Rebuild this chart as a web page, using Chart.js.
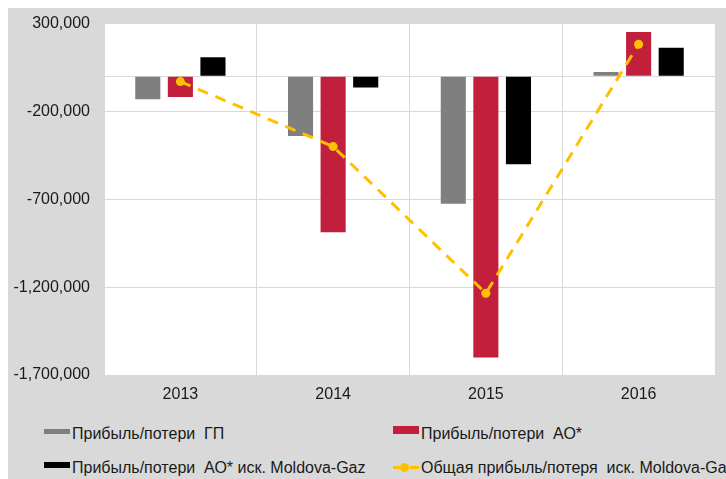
<!DOCTYPE html>
<html>
<head>
<meta charset="utf-8">
<script src="https://cdn.jsdelivr.net/npm/chart.js@4"></script>
<style>
  html, body { margin: 0; padding: 0; background: #ffffff; width: 726px; height: 479px; overflow: hidden; }
  #panel { position: absolute; left: 8px; top: 8px; width: 718px; height: 471px; background: #d9d9d9; }
  #chart { position: absolute; left: 8px; top: 0; }
  .lg { position: absolute; font-family: 'Liberation Sans', Arial, sans-serif; font-size: 16px; color: #1a1a1a; white-space: pre; line-height: 19px; }
  .sw { position: absolute; }
</style>
</head>
<body>
<div id="panel"></div>
<canvas id="chart" width="718" height="408"></canvas>
<div id="legend"></div>
<script>
// ---- data ----
const YEARS = ['2013', '2014', '2015', '2016'];
const SERIES_NAMES = [
  'Прибыль/потери  ГП',
  'Прибыль/потери  АО*',
  'Прибыль/потери  АО* иск. Moldova-Gaz',
  'Общая прибыль/потеря  иск. Moldova-Gaz'
];
const GP_VALUES = [-130000, -340000, -726000, 24000];
const AO_VALUES = [-118000, -887000, -1600000, 252000];
const AO_EX_MG_VALUES = [108000, -63000, -500000, 163000];
const TOTAL_EX_MG_VALUES = [-30000, -400000, -1235000, 182000];
const Y_MIN = -1700000;
const Y_MAX = 300000;
const Y_STEP = 500000;

// ---- styles ----
const COLORS = ['#7f7f7f', '#c11f3b', '#000000', '#ffc000'];
const FONT = "'Liberation Sans', Arial, sans-serif";

const plotBg = {
  id: 'plotBg',
  beforeDraw(chart) {
    const { ctx, chartArea: a } = chart;
    ctx.save();
    ctx.fillStyle = '#ffffff';
    ctx.fillRect(a.left, a.top, a.right - a.left, a.bottom - a.top);
    ctx.restore();
  }
};

const barCommon = { categoryPercentage: 0.64, barPercentage: 0.77, order: 1, borderWidth: 0 };

new Chart(document.getElementById('chart'), {
  type: 'bar',
  data: {
    labels: YEARS,
    datasets: [
      { label: SERIES_NAMES[0], data: GP_VALUES, backgroundColor: COLORS[0], ...barCommon },
      { label: SERIES_NAMES[1], data: AO_VALUES, backgroundColor: COLORS[1], ...barCommon },
      { label: SERIES_NAMES[2], data: AO_EX_MG_VALUES, backgroundColor: COLORS[2], ...barCommon },
      {
        type: 'line', label: SERIES_NAMES[3], data: TOTAL_EX_MG_VALUES, order: 0,
        borderColor: COLORS[3], backgroundColor: COLORS[3], borderWidth: 3,
        borderDash: [11, 8], tension: 0, fill: false,
        pointRadius: 4.5, pointHoverRadius: 4.5, pointBackgroundColor: COLORS[3], pointBorderWidth: 0
      }
    ]
  },
  options: {
    responsive: false,
    animation: false,
    devicePixelRatio: 1,
    layout: { padding: { left: 0, top: 0, right: 11, bottom: 0 } },
    plugins: { legend: { display: false }, tooltip: { enabled: false }, title: { display: false } },
    scales: {
      x: {
        offset: true,
        grid: { display: true, offset: true, color: '#d9d9d9', drawTicks: false },
        border: { display: true, color: '#d9d9d9' },
        ticks: { color: '#1a1a1a', font: { family: FONT, size: 16 }, padding: 10 },
        afterFit(scale) { scale.height = 33; }
      },
      y: {
        min: Y_MIN, max: Y_MAX,
        grid: { color: '#d9d9d9', drawTicks: false },
        border: { display: true, color: '#d9d9d9' },
        ticks: {
          stepSize: Y_STEP, padding: 14, color: '#1a1a1a', font: { family: FONT, size: 16 },
          callback: (v) => v === 0 ? '' : Number(v).toLocaleString('en-US')
        },
        afterBuildTicks(scale) {
          if (!scale.ticks.some(t => t.value === 0)) {
            scale.ticks.push({ value: 0 });
            scale.ticks.sort((a, b) => a.value - b.value);
          }
        },
        afterFit(scale) { scale.width = 96; }
      }
    }
  },
  plugins: [plotBg]
});

// ---- HTML legend ----
const legend = document.getElementById('legend');
const LEGEND_POS = [
  { x: 44, y: 424, sw: { top: 4.5, h: 5 } },
  { x: 393, y: 424, sw: { top: 1.5, h: 8 } },
  { x: 44, y: 458, sw: { top: 4, h: 6 } },
  { x: 393, y: 458, line: true }
];
SERIES_NAMES.forEach((name, i) => {
  const p = LEGEND_POS[i];
  if (p.line) {
    const mk = (l, w) => {
      const d = document.createElement('div');
      d.className = 'sw';
      d.style.cssText = `left:${p.x + l}px;top:${p.y + 7.5}px;width:${w}px;height:3px;background:${COLORS[i]}`;
      legend.appendChild(d);
    };
    mk(0, 9); mk(17, 9);
    const c = document.createElement('div');
    c.className = 'sw';
    c.style.cssText = `left:${p.x + 7}px;top:${p.y + 4.5}px;width:9px;height:9px;border-radius:50%;background:${COLORS[i]}`;
    legend.appendChild(c);
  } else {
    const s = document.createElement('div');
    s.className = 'sw';
    s.style.cssText = `left:${p.x}px;top:${p.y + p.sw.top}px;width:26px;height:${p.sw.h}px;background:${COLORS[i]}`;
    legend.appendChild(s);
  }
  const t = document.createElement('div');
  t.className = 'lg';
  t.style.left = (p.x + 28) + 'px';
  t.style.top = p.y + 'px';
  t.textContent = name;
  legend.appendChild(t);
});
</script>
</body>
</html>
